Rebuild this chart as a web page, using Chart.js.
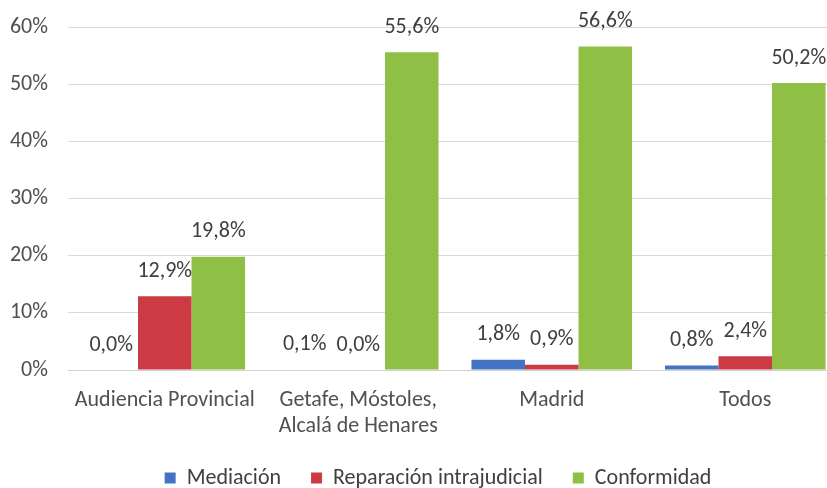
<!DOCTYPE html>
<html>
<head>
<meta charset="utf-8">
<script src="https://cdn.jsdelivr.net/npm/chart.js@4/dist/chart.umd.min.js"></script>
<style>
  html, body { margin: 0; padding: 0; background: #fff; overflow: hidden; width: 827px; height: 488px; }
  #wrap { position: absolute; left: 0; top: 0; width: 842px; height: 488px; }
</style>
</head>
<body>
<div id="wrap"><canvas id="c"></canvas></div>
<script>
const categories = ['Audiencia Provincial', ['Getafe, Móstoles,', 'Alcalá de Henares'], 'Madrid', 'Todos'];
const seriesNames = ['Mediación', 'Reparación intrajudicial', 'Conformidad'];
const mediacion = [0.0, 0.1, 1.8, 0.8];
const reparacion = [12.9, 0.0, 0.9, 2.4];
const conformidad = [19.8, 55.6, 56.6, 50.2];
const yTicks = [0, 10, 20, 30, 40, 50, 60];

const colors = ['#4472C4', '#CC3B44', '#8FBF45'];
const FONT = "Carlito, 'Open Sans', Lato, sans-serif";
const FS = 22;
const fmt = v => v.toFixed(1).replace('.', ',') + '%';

const valueLabels = {
  id: 'valueLabels',
  afterDatasetsDraw(chart) {
    const ctx = chart.ctx;
    ctx.save();
    ctx.font = FS + "px " + FONT;
    ctx.fillStyle = '#404040';
    ctx.textAlign = 'center';
    ctx.textBaseline = 'middle';
    chart.data.datasets.forEach((ds, i) => {
      const meta = chart.getDatasetMeta(i);
      meta.data.forEach((el, j) => {
        ctx.fillText(fmt(ds.data[j]), el.x, el.y - 25);
      });
    });
    ctx.restore();
  }
};

const legendShift = {
  id: 'legendShift',
  afterLayout(chart) {
    const lg = chart.legend;
    if (!lg) return;
    const ca = chart.chartArea;
    const d = (ca.left + ca.right) / 2 - (lg.left + lg.right) / 2 - 17;
    lg.left += d;
    lg.right += d;
  }
};

new Chart(document.getElementById('c'), {
  type: 'bar',
  data: {
    labels: categories,
    datasets: [
      { label: seriesNames[0], data: mediacion, backgroundColor: colors[0] },
      { label: seriesNames[1], data: reparacion, backgroundColor: colors[1] },
      { label: seriesNames[2], data: conformidad, backgroundColor: colors[2] }
    ]
  },
  options: {
    responsive: true,
    maintainAspectRatio: false,
    animation: false,
    layout: { padding: { top: 27, left: 0, right: 0, bottom: 0 } },
    datasets: { bar: { categoryPercentage: 0.83, barPercentage: 1.0 } },
    plugins: {
      legend: {
        position: 'bottom',
        maxHeight: 51,
        labels: {
          font: { family: FONT, size: FS },
          color: '#404040',
          boxWidth: 11,
          boxHeight: 11,
          padding: 30
        }
      },
      tooltip: { enabled: false }
    },
    scales: {
      x: {
        grid: { display: false },
        border: { display: true, color: '#D0D0D0' },
        ticks: { font: { family: FONT, size: FS }, color: '#505050', padding: 9, maxRotation: 0 },
        afterFit(s) { s.height = 67; }
      },
      y: {
        min: 0, max: 60,
        afterBuildTicks(s) { s.ticks = yTicks.map(v => ({ value: v })); },
        grid: { color: '#D9D9D9', drawTicks: false },
        border: { display: false },
        ticks: { font: { family: FONT, size: FS }, color: '#505050', padding: 20, callback: v => v + '%' },
        afterFit(s) { s.width = 68; s.paddingTop = 0; s.paddingBottom = 0; }
      }
    }
  },
  plugins: [valueLabels, legendShift]
});
</script>
</body>
</html>
